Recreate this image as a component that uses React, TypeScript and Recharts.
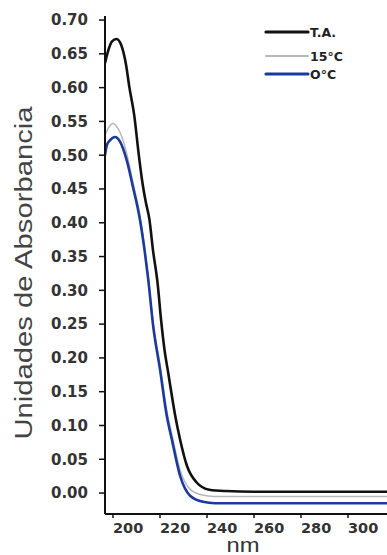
import React from "react";
import { LineChart, Line, XAxis, YAxis } from "recharts";

// wavelength (nm) and absorbance readings per series
const nmTA = [196.6, 198, 199.5, 201.5, 203.5, 205.5, 207, 209, 211, 212.5, 214, 215.5, 217, 219, 220.5, 222, 223.5, 225, 226.5, 228.5, 231.5, 235.5, 241, 248, 260, 280, 300, 316.6];
const absTA = [0.636, 0.655, 0.668, 0.672, 0.663, 0.635, 0.6, 0.56, 0.5, 0.46, 0.43, 0.405, 0.36, 0.31, 0.255, 0.21, 0.178, 0.145, 0.114, 0.08, 0.04, 0.016, 0.005, 0.003, 0.002, 0.002, 0.002, 0.002];

const nm15 = [196.6, 198, 200, 202, 204, 206, 208.5, 211.5, 215, 217, 220, 223, 225, 228.5, 233, 238, 243, 260, 280, 300, 316.6];
const abs15 = [0.53, 0.54, 0.547, 0.54, 0.525, 0.5, 0.46, 0.41, 0.32, 0.255, 0.19, 0.12, 0.088, 0.035, 0.005, -0.003, -0.005, -0.005, -0.005, -0.005, -0.005];

const nm0 = [196.6, 197.4, 198.7, 200.9, 203, 205.8, 208.5, 211.5, 213.6, 215, 217.1, 220, 222.9, 225, 228.5, 232.8, 238.3, 243.4, 260, 280, 300, 316.6];
const abs0 = [0.5, 0.515, 0.522, 0.527, 0.52, 0.493, 0.453, 0.404, 0.355, 0.316, 0.247, 0.183, 0.114, 0.08, 0.026, -0.004, -0.013, -0.015, -0.015, -0.015, -0.015, -0.015];

const seriesNames = ["T.A.", "15°C", "O°C"];
const xTicks = [200, 220, 240, 260, 280, 300];
const yTicks = [0, 0.05, 0.1, 0.15, 0.2, 0.25, 0.3, 0.35, 0.4, 0.45, 0.5, 0.55, 0.6, 0.65, 0.7];

const toPoints = (xs: number[], ys: number[]) => xs.map((x, i) => ({ nm: x, a: ys[i] }));
const dataTA = toPoints(nmTA, absTA);
const data15 = toPoints(nm15, abs15);
const data0 = toPoints(nm0, abs0);

const colors = ["#111111", "#b8b8b8", "#1c3a9e"];
const widths = [2.6, 1.5, 2.6];

const tickFont = "'DejaVu Sans', sans-serif";

const XTick = (props: any) => {
  const { x, y, payload } = props;
  return (
    <text x={x} y={y + 13} textAnchor="start" fontFamily={tickFont} fontWeight="bold" fontSize={14.5} fill="#333">
      {payload.value}
    </text>
  );
};

const LegendBox = () => (
  <svg width={387} height={100} style={{ position: "absolute", left: 0, top: 0, pointerEvents: "none" }}>
    {seriesNames.map((n, i) => {
      const y = [32, 56, 74][i];
      return (
        <g key={n}>
          <line x1={266} x2={308} y1={y} y2={y} stroke={colors[i]} strokeWidth={i === 1 ? 1.8 : 3.2} strokeLinecap="round" />
          <text x={310} y={y + 4.5} fontFamily={tickFont} fontWeight="bold" fontSize={12.5} fill="#222">{n}</text>
        </g>
      );
    })}
  </svg>
);

export default function App() {
  return (
    <div style={{ position: "absolute", left: 0, top: 0, width: 387, height: 555, background: "#fff" }}>
      <LineChart width={387} height={555} margin={{ top: 16, right: 0, left: 0, bottom: 0 }}>
        <XAxis
          xAxisId="b"
          dataKey="nm"
          type="number"
          domain={[196.6, 316.6]}
          allowDataOverflow
          ticks={xTicks}
          height={41}
          tickSize={4}
          tick={<XTick />}
          axisLine={{ stroke: "#111", strokeWidth: 2 }}
          tickLine={{ stroke: "#111", strokeWidth: 1.5 }}
          label={{
            content: () => (
              <text x={243} y={552} textAnchor="middle" fontFamily="'Liberation Sans', Arial, sans-serif" fontSize={20} fill="#333" textLength={33} lengthAdjust="spacingAndGlyphs">nm</text>
            ),
          }}
        />
        <XAxis xAxisId="t" orientation="top" type="number" domain={[196.6, 316.6]} height={0} tick={false} tickLine={false} axisLine={{ stroke: "#111", strokeWidth: 2 }} />
        <YAxis
          type="number"
          domain={[-0.031, 0.706]}
          allowDataOverflow
          ticks={yTicks}
          width={105}
          tickSize={6}
          tickMargin={11}
          tickFormatter={(v: number) => v.toFixed(2)}
          tick={{ fontFamily: tickFont, fontWeight: "bold", fontSize: 15, fill: "#333" }}
          axisLine={{ stroke: "#111", strokeWidth: 2 }}
          tickLine={{ stroke: "#111", strokeWidth: 1.5 }}
          label={{
            content: () => (
              <text x={0} y={0} transform="translate(32,273) rotate(-90)" textAnchor="middle" fontFamily="'Liberation Sans', Arial, sans-serif" fontSize={23} fill="#444" textLength={333} lengthAdjust="spacingAndGlyphs">Unidades de Absorbancia</text>
            ),
          }}
        />
        <Line xAxisId="b" data={data15} dataKey="a" name={seriesNames[1]} type="monotone" stroke={colors[1]} strokeWidth={widths[1]} dot={false} isAnimationActive={false} />
        <Line xAxisId="b" data={data0} dataKey="a" name={seriesNames[2]} type="monotone" stroke={colors[2]} strokeWidth={widths[2]} dot={false} isAnimationActive={false} />
        <Line xAxisId="b" data={dataTA} dataKey="a" name={seriesNames[0]} type="monotone" stroke={colors[0]} strokeWidth={widths[0]} dot={false} isAnimationActive={false} />
      </LineChart>
      <LegendBox />
    </div>
  );
}
